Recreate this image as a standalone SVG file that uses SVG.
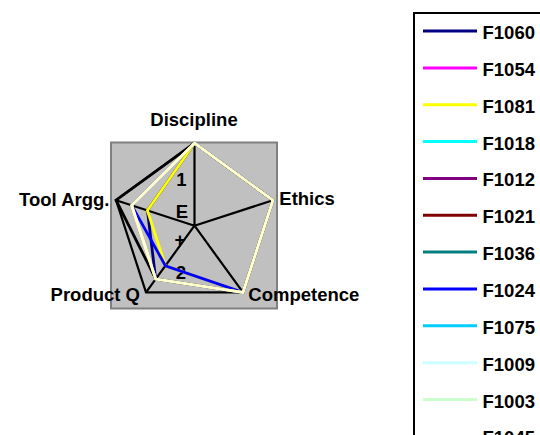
<svg xmlns="http://www.w3.org/2000/svg" width="540" height="435" viewBox="0 0 540 435">
<style>
text{font-family:"Liberation Sans",Arial,sans-serif;font-weight:bold;font-size:18.5px;fill:#000}
.grid{fill:none;stroke:#000;stroke-width:2.2;stroke-linejoin:miter}
.s{fill:none;stroke-width:2.8;stroke-linejoin:miter}
.lg{stroke-width:3}
</style>
<rect width="540" height="435" fill="#fff"/>
<g id="plot-area">
<rect x="111" y="142.5" width="166" height="166" fill="#c0c0c0" stroke="#808080" stroke-width="2"/>
</g>
<g id="grid">
<polygon class="grid" points="194.5,143.2 272.96,200.21 242.99,292.44 146.01,292.44 116.04,200.21"/>
<path class="grid" d="M194.5,225.7 L194.5,143.2 M194.5,225.7 L272.96,200.21 M194.5,225.7 L242.99,292.44 M194.5,225.7 L146.01,292.44 M194.5,225.7 L116.04,200.21"/>
</g>
<g id="axis-labels">
<text x="181.5" y="186" text-anchor="middle">1</text>
<text x="182" y="218" text-anchor="middle">E</text>
<text x="180" y="246" text-anchor="middle">+</text>
<text x="181" y="278.5" text-anchor="middle">2</text>
</g>
<g id="series">
<polygon id="F1060" class="s" stroke="#000080" stroke-width="2" points="194.5,143.2 147.42,210.4 155.71,279.09 242.99,292.44 272.96,200.21"/>
<polygon id="F1081" class="s" stroke="#ffff00" points="194.5,143.2 147.42,210.4 165.4,265.75 242.99,292.44 272.96,200.21"/>
<polygon id="F1024" class="s" stroke="#0000ff" points="194.5,143.2 131.73,205.31 165.4,265.75 242.99,292.44 272.96,200.21"/>
<polygon id="series-black" class="s" stroke="#000" stroke-width="2.2" points="194.5,143.2 116.04,200.21 155.71,279.09 242.99,292.44 272.96,200.21"/>
<polygon id="F1045" class="s" stroke="#ffff99" stroke-width="3.4" points="194.5,143.2 131.73,205.31 155.71,279.09 242.99,292.44 272.96,200.21"/>
<polygon id="F1009" class="s" stroke="#ffffd0" stroke-width="1" points="194.5,143.2 131.73,205.31 155.71,279.09 242.99,292.44 272.96,200.21"/>
</g>
<g id="category-labels">
<text x="194" y="125.7" text-anchor="middle">Discipline</text>
<text x="279.3" y="205">Ethics</text>
<text x="248.3" y="300.7">Competence</text>
<text x="140" y="300.7" text-anchor="end">Product Q</text>
<text x="109.5" y="205.7" text-anchor="end">Tool Argg.</text>
</g>
<g id="legend">
<rect x="414" y="13" width="140" height="440" fill="#fff" stroke="#000" stroke-width="2"/>
<line class="lg" x1="423" y1="31" x2="477" y2="31" stroke="#000080"/><text x="482.5" y="39">F1060</text>
<line class="lg" x1="423" y1="67.9" x2="477" y2="67.9" stroke="#ff00ff"/><text x="482.5" y="75.9">F1054</text>
<line class="lg" x1="423" y1="104.7" x2="477" y2="104.7" stroke="#ffff00"/><text x="482.5" y="112.7">F1081</text>
<line class="lg" x1="423" y1="141.6" x2="477" y2="141.6" stroke="#00ffff"/><text x="482.5" y="149.6">F1018</text>
<line class="lg" x1="423" y1="178.4" x2="477" y2="178.4" stroke="#800080"/><text x="482.5" y="186.4">F1012</text>
<line class="lg" x1="423" y1="215.3" x2="477" y2="215.3" stroke="#800000"/><text x="482.5" y="223.3">F1021</text>
<line class="lg" x1="423" y1="252.1" x2="477" y2="252.1" stroke="#008080"/><text x="482.5" y="260.1">F1036</text>
<line class="lg" x1="423" y1="289" x2="477" y2="289" stroke="#0000ff"/><text x="482.5" y="297">F1024</text>
<line class="lg" x1="423" y1="325.8" x2="477" y2="325.8" stroke="#00ccff"/><text x="482.5" y="333.8">F1075</text>
<line class="lg" x1="423" y1="362.7" x2="477" y2="362.7" stroke="#ccffff"/><text x="482.5" y="370.7">F1009</text>
<line class="lg" x1="423" y1="399.5" x2="477" y2="399.5" stroke="#ccffcc"/><text x="482.5" y="407.5">F1003</text>
<line class="lg" x1="423" y1="436.4" x2="477" y2="436.4" stroke="#ffff99"/><text x="482.5" y="444.4">F1045</text>
</g>
</svg>
